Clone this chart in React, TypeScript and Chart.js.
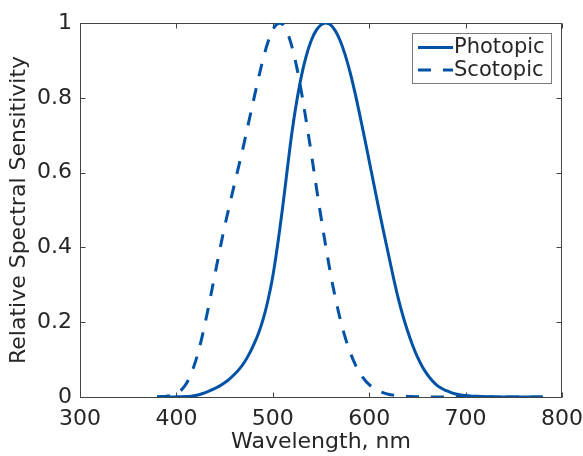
import React, { useEffect, useRef } from "react";
import { Chart, registerables } from "chart.js";

Chart.register(...registerables);

// Wavelength samples (nm)
const wavelengths = [
  380, 385, 390, 395, 400, 405, 410, 415, 420, 425, 430, 435, 440, 445, 450, 455, 460, 465, 470, 475,
  480, 485, 490, 495, 500, 505, 510, 515, 520, 525, 530, 535, 540, 545, 550, 555, 560, 565, 570, 575,
  580, 585, 590, 595, 600, 605, 610, 615, 620, 625, 630, 635, 640, 645, 650, 655, 660, 665, 670, 675,
  680, 685, 690, 695, 700, 705, 710, 715, 720, 725, 730, 735, 740, 745, 750, 755, 760, 765, 770, 775, 780,
];

// Photopic (cone) relative sensitivity
const photopicValues = [
  0.000039, 0.000064, 0.00012, 0.000217, 0.000396, 0.00064, 0.00121, 0.00218, 0.004, 0.0073,
  0.0116, 0.01684, 0.023, 0.0298, 0.038, 0.048, 0.06, 0.0739, 0.091, 0.1126,
  0.139, 0.1693, 0.208, 0.2586, 0.323, 0.4073, 0.503, 0.6082, 0.71, 0.7932,
  0.862, 0.9149, 0.954, 0.9803, 0.995, 1.0, 0.995, 0.9786, 0.952, 0.9154,
  0.87, 0.8163, 0.757, 0.6949, 0.631, 0.5668, 0.503, 0.4412, 0.381, 0.321,
  0.265, 0.217, 0.175, 0.1382, 0.107, 0.0816, 0.061, 0.0446, 0.032, 0.0232,
  0.017, 0.0119, 0.0082, 0.0057, 0.0041, 0.0029, 0.0021, 0.0015, 0.001, 0.0007,
  0.0005, 0.00036, 0.00025, 0.00017, 0.00012, 0.000085, 0.00006, 0.000042, 0.00003, 0.000021, 0.000015,
];

// Scotopic (rod) relative sensitivity
const scotopicValues = [
  0.000589, 0.001108, 0.002209, 0.004531, 0.00929, 0.01852, 0.03484, 0.06052, 0.0966, 0.1436,
  0.1998, 0.2625, 0.3281, 0.3931, 0.455, 0.5116, 0.567, 0.6206, 0.676, 0.7351,
  0.793, 0.851, 0.904, 0.949, 0.982, 0.998, 0.997, 0.975, 0.935, 0.88,
  0.811, 0.733, 0.65, 0.564, 0.481, 0.402, 0.3288, 0.2639, 0.2076, 0.1602,
  0.1212, 0.0899, 0.0655, 0.0469, 0.03315, 0.02312, 0.01593, 0.01088, 0.00737, 0.004976,
  0.003335, 0.002235, 0.001497, 0.001005, 0.000677, 0.000459, 0.000313, 0.000215, 0.000148, 0.000103,
  0.0000715, 0.00005, 0.0000353, 0.000025, 0.0000178, 0.0000127, 0.0000091, 0.0000066, 0.0000048, 0.0000035,
  0.0000025, 0.0000018, 0.0000014, 0.000001, 0.0000008, 0.0000006, 0.0000004, 0.0000003, 0.0000002, 0.0000002, 0.0000001,
];

const seriesLabels = ["Photopic", "Scotopic"];
const xTicks = [300, 400, 500, 600, 700, 800];
const yTicks = [0, 0.2, 0.4, 0.6, 0.8, 1];
const xTitle = "Wavelength, nm";
const yTitle = "Relative Spectral Sensitivity";

const LINE_COLOR = "#0052a6";
const AXIS_COLOR = "#444444";
const TEXT_COLOR = "#262626";
const FONT_FAMILY = "'DejaVu Sans', 'Liberation Sans', Arial, sans-serif";

const framePlugin = {
  id: "frame",
  beforeDatasetsDraw(chart: any) {
    const { ctx, chartArea } = chart;
    const { left, right, top, bottom } = chartArea;
    const xs = chart.scales.x;
    const ys = chart.scales.y;
    ctx.save();
    ctx.strokeStyle = AXIS_COLOR;
    ctx.lineWidth = 1;
    const L = Math.round(left) + 0.5;
    const R = Math.round(right) - 0.5;
    const T = Math.round(top) + 0.5;
    const B = Math.round(bottom) + 0.5;
    ctx.strokeRect(L, T, R - L, B - T);
    const tl = 5;
    ctx.beginPath();
    xTicks.forEach((v) => {
      const px = Math.round(xs.getPixelForValue(v)) + 0.5;
      ctx.moveTo(px, B);
      ctx.lineTo(px, B - tl);
      ctx.moveTo(px, T);
      ctx.lineTo(px, T + tl);
    });
    yTicks.forEach((v) => {
      const py = Math.round(ys.getPixelForValue(v)) + 0.5;
      ctx.moveTo(L, py);
      ctx.lineTo(L + tl, py);
      ctx.moveTo(R, py);
      ctx.lineTo(R - tl, py);
    });
    ctx.stroke();
    ctx.restore();
  },
  afterDraw(chart: any) {
    const { ctx } = chart;
    const bx = 412.5, by = 33.5, bw = 139, bh = 50;
    ctx.save();
    ctx.fillStyle = "#ffffff";
    ctx.fillRect(bx, by, bw, bh);
    ctx.strokeStyle = "#7a7a7a";
    ctx.lineWidth = 1;
    ctx.strokeRect(bx, by, bw, bh);
    const rows = [47.5, 70];
    chart.data.datasets.forEach((ds: any, i: number) => {
      const y = rows[i];
      ctx.strokeStyle = ds.borderColor;
      ctx.lineWidth = ds.borderWidth;
      ctx.setLineDash(ds.borderDash || []);
      ctx.beginPath();
      ctx.moveTo(418, y);
      ctx.lineTo(453, y);
      ctx.stroke();
      ctx.setLineDash([]);
      ctx.fillStyle = TEXT_COLOR;
      ctx.font = `21px ${FONT_FAMILY}`;
      ctx.textAlign = "left";
      ctx.textBaseline = "middle";
      ctx.fillText(ds.label, 454, y + 0.5);
    });
    ctx.restore();
  },
};

export default function App() {
  const canvasRef = useRef<HTMLCanvasElement | null>(null);

  useEffect(() => {
    const canvas = canvasRef.current;
    if (!canvas) return;
    const chart = new Chart(canvas, {
      type: "line",
      data: {
        datasets: [
          {
            label: seriesLabels[0],
            data: wavelengths.map((x, i) => ({ x, y: photopicValues[i] })),
            borderColor: LINE_COLOR,
            borderWidth: 3,
            pointRadius: 0,
            tension: 0.4,
            fill: false,
          },
          {
            label: seriesLabels[1],
            data: wavelengths.map((x, i) => ({ x, y: scotopicValues[i] })),
            borderColor: LINE_COLOR,
            borderWidth: 3,
            borderDash: [13, 12],
            pointRadius: 0,
            tension: 0.4,
            fill: false,
          },
        ],
      },
      options: {
        animation: false,
        responsive: false,
        maintainAspectRatio: false,
        layout: { padding: { top: 23, right: 21, left: 0, bottom: 0 } },
        plugins: {
          legend: { display: false },
          tooltip: { enabled: false },
        },
        scales: {
          x: {
            type: "linear",
            min: 300,
            max: 800,
            afterBuildTicks: (scale: any) => {
              scale.ticks = xTicks.map((v) => ({ value: v }));
            },
            afterFit: (scale: any) => {
              scale.height = 59;
              scale.paddingLeft = 0;
              scale.paddingRight = 0;
            },
            grid: { display: false, drawTicks: false },
            border: { display: false },
            ticks: {
              color: TEXT_COLOR,
              font: { family: FONT_FAMILY, size: 22 },
              padding: 9,
              maxRotation: 0,
              callback: (v: any) => String(v),
            },
            title: {
              display: true,
              text: xTitle,
              color: TEXT_COLOR,
              font: { family: FONT_FAMILY, size: 22 },
              padding: { top: 0, bottom: 1 },
            },
          },
          y: {
            type: "linear",
            min: 0,
            max: 1,
            afterBuildTicks: (scale: any) => {
              scale.ticks = yTicks.map((v) => ({ value: v }));
            },
            afterFit: (scale: any) => {
              scale.width = 80;
              scale.paddingTop = 0;
              scale.paddingBottom = 0;
            },
            grid: { display: false, drawTicks: false },
            border: { display: false },
            ticks: {
              color: TEXT_COLOR,
              font: { family: FONT_FAMILY, size: 22 },
              padding: 8,
              callback: (v: any) => String(Number(Number(v).toFixed(1))),
            },
            title: {
              display: true,
              text: yTitle,
              color: TEXT_COLOR,
              font: { family: FONT_FAMILY, size: 22 },
              padding: { top: 6, bottom: 0 },
            },
          },
        },
      },
      plugins: [framePlugin],
    } as any);
    return () => chart.destroy();
  }, []);

  return (
    <div style={{ position: "absolute", left: 0, top: 0, width: 583, height: 456, background: "#ffffff" }}>
      <canvas ref={canvasRef} width={583} height={456} style={{ display: "block" }} />
    </div>
  );
}
